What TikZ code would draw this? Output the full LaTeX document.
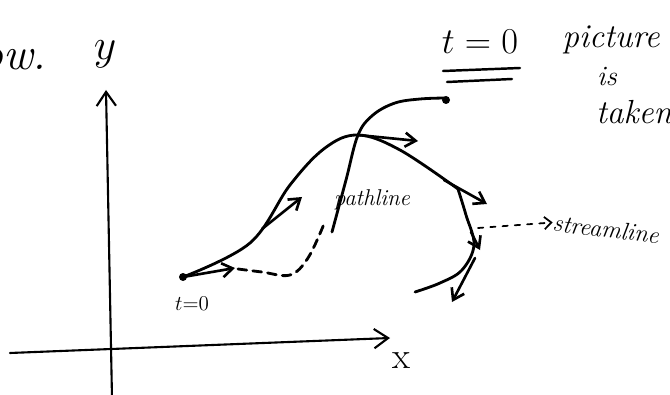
\documentclass[tikz,border=0pt]{standalone}
\usetikzlibrary{arrows.meta}
\begin{document}
\begin{tikzpicture}[x=0.02cm,y=-0.02cm,line cap=round,line join=round,
  axis/.style={line width=1.2pt,-{Straight Barb[length=8pt,width=11pt,line width=1.2pt]}},
  curve/.style={line width=1.6pt},
  vel/.style={line width=1.5pt,-{Straight Barb[length=6pt,width=8pt,line width=1.5pt]}},
  dashpath/.style={line width=1.6pt,dash pattern=on 5pt off 3.5pt},
  lab/.style={inner sep=0pt}]
\useasboundingbox (0,0) rectangle (670,395);
\clip (0,0) rectangle (670,395);
% axes
\coordinate (yb) at (112,398);
\coordinate (yt) at (106,90);
\coordinate (xl) at (10,353);
\coordinate (xr) at (390,338);
\draw[axis] (yb) -- (yt);
\draw[axis] (xl) -- (xr);
\node[lab,font=\fontsize{28}{28}\selectfont] (ylab) at (105,54) {$y$};
\node[lab,font=\fontsize{21}{21}\selectfont] (xlab) at (401,361) {x};
% streamline (t = 0 picture)
\coordinate (S) at (183,277);
\coordinate (C) at (358,135);
\coordinate (K) at (458,189);
\draw[curve] plot[smooth,tension=0.6] coordinates {(183,277) (250,243) (290,185) (325,148) (358,135) (400,150) (458,189)};
\draw[curve] plot[smooth,tension=0.6] coordinates {(458,189) (466,215) (474,245) (462,270) (440,283) (415,292)};
% pathline
\draw[dashpath] plot[smooth,tension=0.6] coordinates {(238,269) (262,272) (290,275) (308,258) (324,224)};
\draw[curve] plot[smooth,tension=0.6] coordinates {(332,232) (346,180) (358,135) (373,115) (395,103) (420,99) (445,98)};
\coordinate (E) at (446,100);
\fill (S) circle (4);
\fill (E) circle (4);
% velocity vectors
\coordinate (v1) at (235,268);
\coordinate (a2) at (262,229);
\coordinate (v2) at (302,197);
\coordinate (v3) at (418,141);
\coordinate (a4) at (444,180);
\coordinate (v4) at (487,204);
\coordinate (a5) at (471,232);
\coordinate (v5) at (480,250);
\coordinate (a6) at (475,258);
\coordinate (v6) at (452,302);
\draw[vel] (S) -- (v1);
\draw[vel] (a2) -- (v2);
\draw[vel] (C) -- (v3);
\draw[vel] (a4) -- (v4);
\draw[vel] (a5) -- (v5);
\draw[vel] (a6) -- (v6);
% labels
\node[lab,font=\fontsize{12}{12}\selectfont] (t0) at (192,304) {$t{=}0$};
\node[lab,font=\itshape\fontsize{13}{13}\selectfont] (pl) at (372,200) {pathline};
\coordinate (d0) at (478,228);
\node[lab,font=\itshape\fontsize{14}{14}\selectfont,rotate=-7] (sl) at (606,229) {streamline};
\draw[line width=1pt,dash pattern=on 3pt off 4pt,-{Straight Barb[length=4pt,width=7pt,line width=1pt]}] (d0) -- (sl.west);
% top right note
\node[lab,font=\fontsize{22}{22}\selectfont] (tt) at (480,42) {$t=0$};
\coordinate (u1a) at (443,71); \coordinate (u1b) at (520,68);
\coordinate (u2a) at (447,82); \coordinate (u2b) at (512,79);
\draw[line width=1.4pt] (u1a) -- (u1b);
\draw[line width=1.4pt] (u2a) -- (u2b);
\node[lab,font=\itshape\fontsize{19}{19}\selectfont] (pic) at (611,40) {picture};
\node[lab,font=\itshape\fontsize{16}{16}\selectfont] (is) at (607,77) {is};
\node[lab,font=\itshape\fontsize{19}{19}\selectfont] (tk) at (634,112) {taken};
% cut-off word at top left
\node[lab,font=\itshape\fontsize{26}{26}\selectfont,anchor=base east] (fl) at (47,70) {flow.};
\end{tikzpicture}
\end{document}
